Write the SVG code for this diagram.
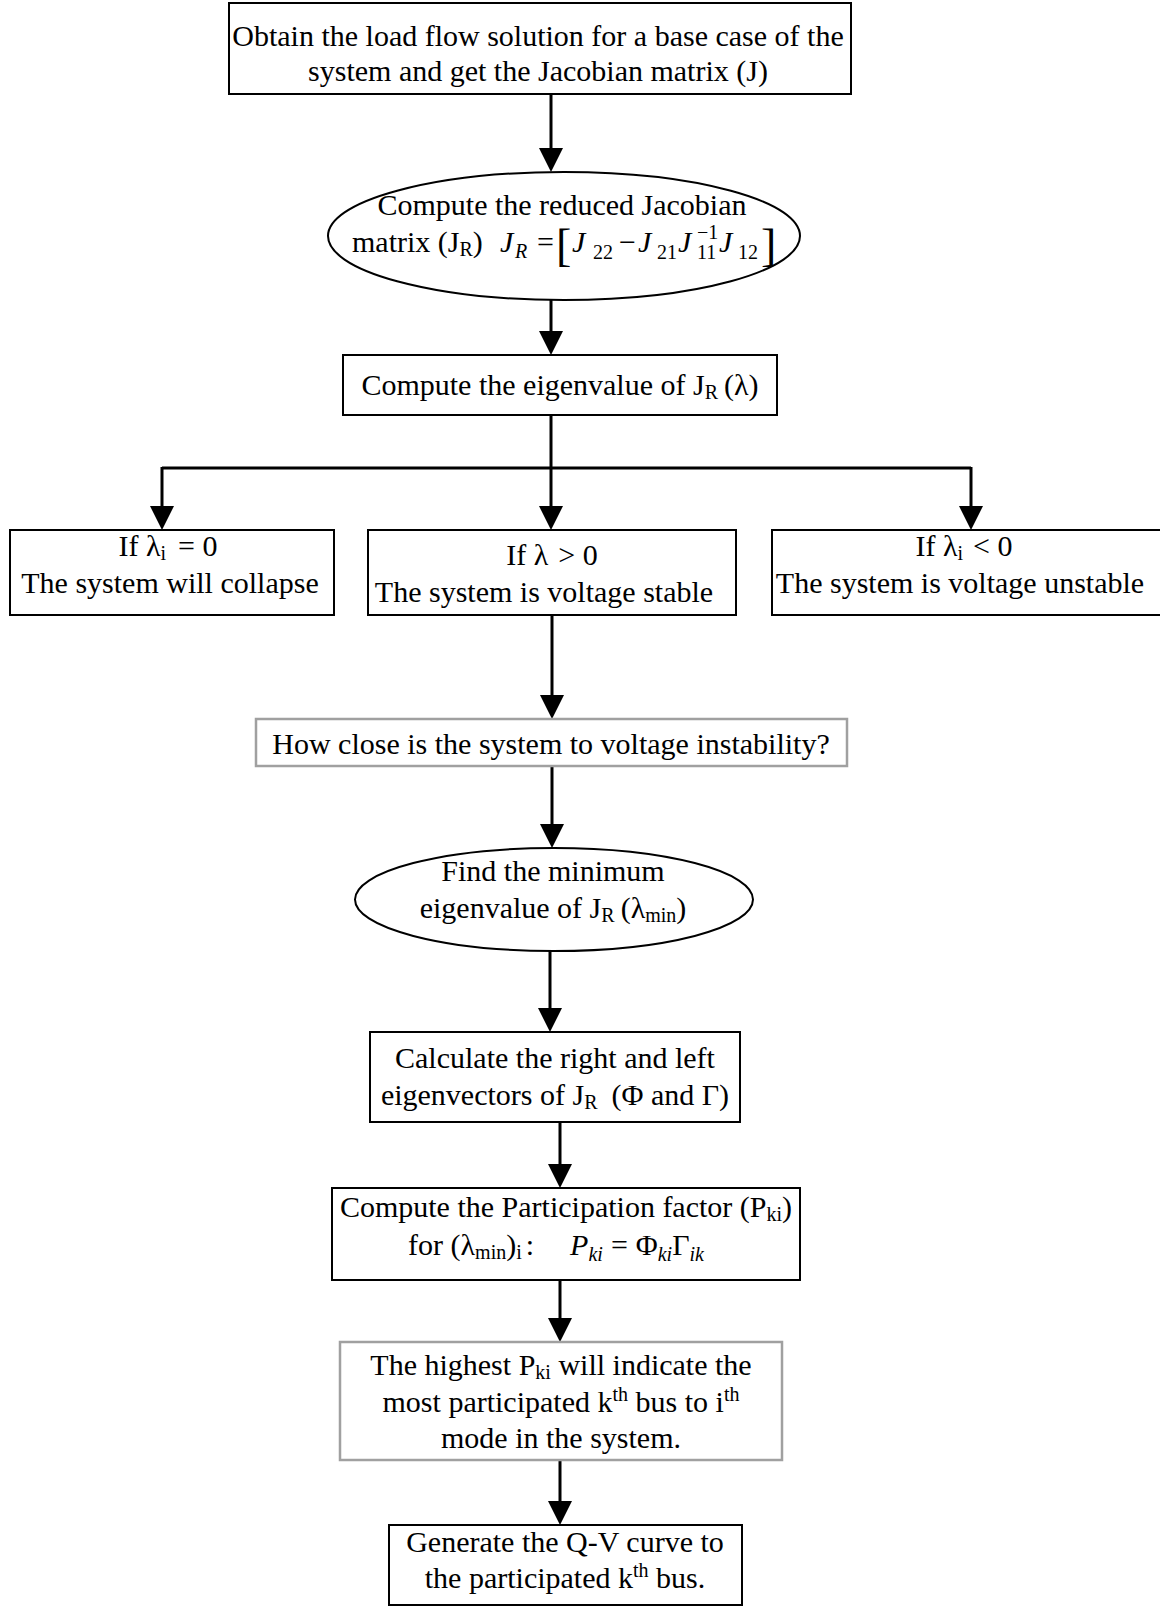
<svg xmlns="http://www.w3.org/2000/svg" width="1160" height="1606" viewBox="0 0 1160 1606">
<defs>
<style>
text{font-family:"Liberation Serif","Times New Roman",serif;font-size:30px;fill:#000;text-anchor:middle}
text.st{text-anchor:start}
.sub{font-size:20px}
.it{font-style:italic}
.br{font-size:46px}
.box{fill:#fff;stroke:#000;stroke-width:2}
.gbox{fill:#fff;stroke:#a0a0a0;stroke-width:2.5}
.conn{stroke:#000;stroke-width:3;fill:none}
</style>
<marker id="ah" viewBox="0 0 24 24" refX="3" refY="12" markerWidth="24" markerHeight="24" markerUnits="userSpaceOnUse" orient="auto">
<path d="M0,0 L24,12 L0,24 Z" fill="#000"/>
</marker>
</defs>
<rect width="1160" height="1606" fill="#fff"/>
<g id="connectors">
<line class="conn" x1="551" y1="94" x2="551" y2="151" marker-end="url(#ah)"/>
<line class="conn" x1="551" y1="300" x2="551" y2="334" marker-end="url(#ah)"/>
<polyline class="conn" points="551,415 551,468"/>
<polyline class="conn" points="162,468 971,468"/>
<line class="conn" x1="162" y1="467" x2="162" y2="509" marker-end="url(#ah)"/>
<line class="conn" x1="551" y1="467" x2="551" y2="509" marker-end="url(#ah)"/>
<line class="conn" x1="971" y1="467" x2="971" y2="509" marker-end="url(#ah)"/>
<line class="conn" x1="552" y1="615" x2="552" y2="698" marker-end="url(#ah)"/>
<line class="conn" x1="552" y1="766" x2="552" y2="827" marker-end="url(#ah)"/>
<line class="conn" x1="550" y1="951" x2="550" y2="1011" marker-end="url(#ah)"/>
<line class="conn" x1="560" y1="1122" x2="560" y2="1167" marker-end="url(#ah)"/>
<line class="conn" x1="560" y1="1280" x2="560" y2="1321" marker-end="url(#ah)"/>
<line class="conn" x1="560" y1="1460" x2="560" y2="1504" marker-end="url(#ah)"/>
</g>
<g id="n1">
<rect class="box" x="229" y="3" width="622" height="91"/>
<text x="538" y="46">Obtain the load flow solution for a base case of the</text>
<text x="538" y="81">system and get the Jacobian matrix (J)</text>
</g>
<g id="n2">
<ellipse class="box" cx="564" cy="236" rx="236" ry="64"/>
<text x="562" y="215">Compute the reduced Jacobian</text>
<text class="st" x="352" y="252">matrix (J<tspan class="sub" dy="4">R</tspan><tspan dy="-4">)</tspan></text>
<text class="st it" x="500" y="252">J</text>
<text class="st it sub" x="515" y="258">R</text>
<text class="st" x="537" y="252">=</text>
<text class="st br" x="556" y="261">[</text>
<text class="st it" x="572" y="252">J</text>
<text class="st sub" x="593" y="259">22</text>
<text class="st" x="619" y="252">−</text>
<text class="st it" x="638" y="252">J</text>
<text class="st sub" x="657" y="259">21</text>
<text class="st it" x="678" y="252">J</text>
<text class="st sub" x="697" y="259">11</text>
<text class="st sub" x="697" y="239">−1</text>
<text class="st it" x="719" y="252">J</text>
<text class="st sub" x="738" y="259">12</text>
<text class="st br" x="761" y="261">]</text>
</g>
<g id="n3">
<rect class="box" x="343" y="355" width="434" height="60"/>
<text x="560" y="395">Compute the eigenvalue of J<tspan class="sub" dy="4">R</tspan><tspan dy="-4" dx="6">(λ)</tspan></text>
</g>
<g id="n4">
<rect class="box" x="10" y="530" width="324" height="85"/>
<text x="168" y="556">If λ<tspan class="sub" dy="4">i</tspan><tspan dy="-4" dx="12">= 0</tspan></text>
<text x="170" y="593">The system will collapse</text>
</g>
<g id="n5">
<rect class="box" x="368" y="530" width="368" height="85"/>
<text x="552" y="565">If λ<tspan dx="10">&gt; 0</tspan></text>
<text x="544" y="602">The system is voltage stable</text>
</g>
<g id="n6">
<rect class="box" x="772" y="530" width="392" height="85"/>
<text x="964" y="556">If λ<tspan class="sub" dy="4">i</tspan><tspan dy="-4" dx="10">&lt; 0</tspan></text>
<text x="960" y="593">The system is voltage unstable</text>
</g>
<g id="n7">
<rect class="gbox" x="256" y="719" width="591" height="47"/>
<text x="551" y="754">How close is the system to voltage instability?</text>
</g>
<g id="n8">
<ellipse class="box" cx="554" cy="899.5" rx="199" ry="51.5"/>
<text x="553" y="881">Find the minimum</text>
<text x="553" y="918">eigenvalue of J<tspan class="sub" dy="4">R</tspan><tspan dy="-4" dx="6">(λ</tspan><tspan class="sub" dy="4">min</tspan><tspan dy="-4">)</tspan></text>
</g>
<g id="n9">
<rect class="box" x="370" y="1032" width="370" height="90"/>
<text x="555" y="1068">Calculate the right and left</text>
<text x="555" y="1105">eigenvectors of J<tspan class="sub" dy="4">R</tspan><tspan dy="-4" dx="14">(Φ and Γ)</tspan></text>
</g>
<g id="n10">
<rect class="box" x="332" y="1188" width="468" height="92"/>
<text x="566" y="1217">Compute the Participation factor (P<tspan class="sub" dy="4">ki</tspan><tspan dy="-4">)</tspan></text>
<text x="556" y="1255">for (λ<tspan class="sub" dy="4">min</tspan><tspan dy="-4">)</tspan><tspan class="sub" dy="4">i</tspan><tspan dy="-4" dx="4">:</tspan><tspan class="it" dx="36">P</tspan><tspan class="sub it" dy="6">ki</tspan><tspan dy="-6" dx="8">=</tspan><tspan dx="8">Φ</tspan><tspan class="sub it" dy="6">ki</tspan><tspan dy="-6">Γ</tspan><tspan class="sub it" dy="6">ik</tspan></text>
</g>
<g id="n11">
<rect class="gbox" x="340" y="1342" width="442" height="118"/>
<text x="561" y="1375">The highest P<tspan class="sub" dy="4">ki</tspan><tspan dy="-4"> will indicate the</tspan></text>
<text x="561" y="1412">most participated k<tspan class="sub" dy="-11">th</tspan><tspan dy="11"> bus to i</tspan><tspan class="sub" dy="-11">th</tspan></text>
<text x="561" y="1448">mode in the system.</text>
</g>
<g id="n12">
<rect class="box" x="389" y="1525" width="353" height="80"/>
<text x="565" y="1552">Generate the Q-V curve to</text>
<text x="565" y="1588">the participated k<tspan class="sub" dy="-11">th</tspan><tspan dy="11"> bus.</tspan></text>
</g>
</svg>
